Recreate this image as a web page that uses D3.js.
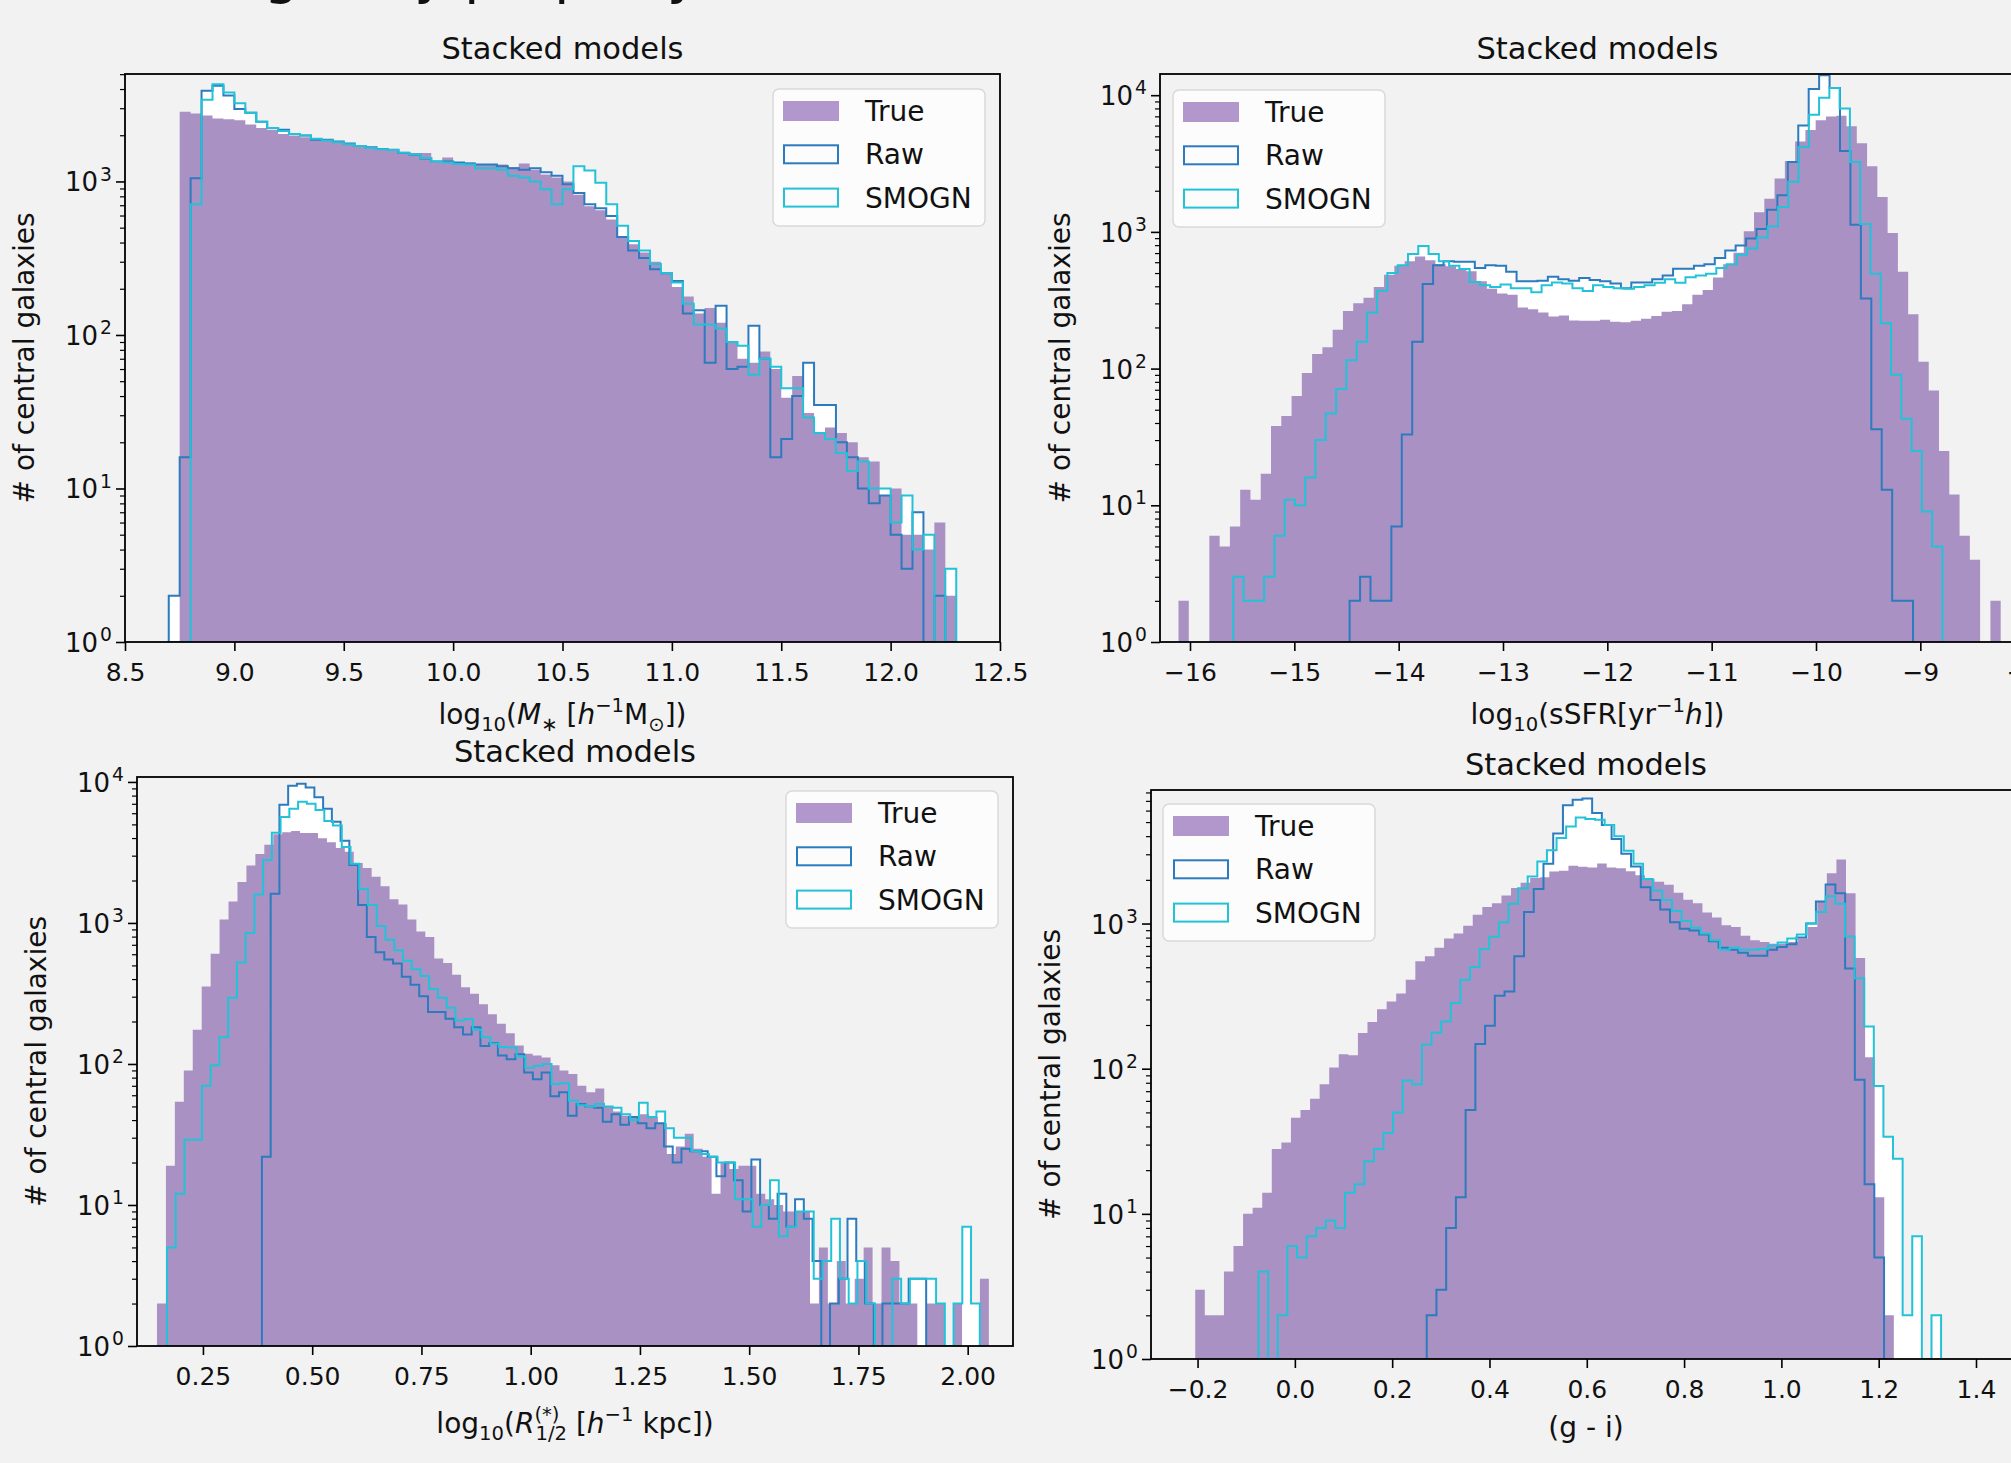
<!DOCTYPE html>
<html>
<head>
<meta charset="utf-8">
<script src="https://cdn.jsdelivr.net/npm/d3@7"></script>
<style>
  body { margin: 0; background: #f2f2f2; }
  svg { display: block; font-family: "DejaVu Sans", sans-serif; }
</style>
</head>
<body>
<svg width="2011" height="1463"></svg>
<script>
// series order everywhere: True, Raw, SMOGN
const seriesNames = ["True", "Raw", "SMOGN"];

// stellar mass
const massBinStart = [8.70, 8.70, 8.70];
const massBinWidth = [0.05, 0.05, 0.05];
const massTrue = [0,2850,2770,2690,2570,2540,2500,2350,2230,2170,2040,1990,1940,1870,1850,1800,1770,1720,1670,1630,1610,1560,1530,1530,1330,1430,1330,1330,1290,1290,1290,1240,1310,1190,1110,1060,1000,820,690,650,565,435,390,345,300,252,205,178,138,150,120,90,70,66,78,60,39,54,31,23,25,23,20,16,15,9,10,5,5,4,6,2];
const massRaw = [2,16,1050,3900,4200,3630,2960,2800,2450,2230,2170,2040,1990,1870,1870,1820,1770,1700,1670,1630,1610,1530,1490,1410,1350,1350,1330,1310,1290,1290,1255,1220,1190,1220,1150,1090,960,840,710,670,595,435,355,317,268,252,225,138,145,66,155,60,62,115,70,16,21,40,66,35,35,20,16,10,8,9,5,3,7,0,2,0];
const massSmogn = [0,0,710,3400,4300,3800,3230,2800,2450,2230,2130,2040,1990,1900,1850,1800,1750,1700,1650,1620,1600,1540,1500,1420,1350,1330,1300,1290,1220,1220,1190,1090,1060,1000,890,710,890,1255,1180,980,710,515,410,355,290,252,220,160,117,117,110,90,85,55,70,62,45,45,29,23,21,17,13,15,10,10,6,9,4,5,0,3];
const massTicks = [8.5, 9.0, 9.5, 10.0, 10.5, 11.0, 11.5, 12.0, 12.5];

// specific star formation rate
const ssfrBinStart = [-16.11, -14.47, -15.585];
const ssfrBinWidth = [0.0985, 0.1, 0.0985];
const ssfrTrue = [2,0,0,6,5,7,13,11,17,38,45,63,93,128,143,192,264,300,330,395,485,565,610,660,620,580,560,535,515,435,383,355,347,280,272,257,240,245,225,224,224,228,220,218,224,232,243,260,264,295,347,375,463,580,705,1010,1390,1750,2460,3300,4580,5560,6560,6970,7070,5920,4450,3020,1800,980,510,250,112,69,25,12,6,4,0,2];
const ssfrRaw = [2,3,2,2,7,33,157,415,570,610,605,605,545,570,565,510,435,435,440,470,450,440,460,445,435,420,387,426,426,450,480,537,537,565,580,645,730,795,895,1050,1450,1850,3250,6000,11100,14000,11300,3900,1130,325,36,13,2,2];
const ssfrSmogn = [3,2,2,3,6,11,10,16,30,47,71,115,157,257,371,500,570,690,790,690,610,565,535,430,407,395,413,387,387,362,407,426,420,387,370,407,395,387,383,395,407,425,450,425,465,480,495,545,580,680,755,910,1100,1520,2330,4170,7200,9580,11300,8000,3250,1140,495,215,90,43,25,9,5];
const ssfrTicks = [-16, -15, -14, -13, -12, -11, -10, -9, -8];

// half-mass radius
const sizeBinStart = [0.1448, 0.385, 0.1677];
const sizeBinWidth = [0.02047, 0.02, 0.02];
const sizeTrue = [2,19,54,90,175,355,605,1060,1420,1950,2560,3080,3580,4260,4400,4480,4340,4340,3980,3740,3400,3200,2660,2450,2130,1820,1470,1350,1060,870,795,560,520,430,350,315,265,225,193,165,135,118,115,111,98,90,85,70,63,67,50,46,43,42,44,42,38,23,26,32,25,22,12,20,18,19,19,12,11,10,9,9,9,2,5,2,4,2,3,5,2,5,4,2,2,0,2,2,0,2,0,0,3];
const sizeRaw = [22,1610,6900,9400,9700,9150,7800,6450,5220,3830,2580,1340,795,620,550,515,415,365,302,234,234,209,182,162,182,134,141,115,108,117,87,78,87,59,63,43,52,50,49,39,44,37,42,38,35,38,26,20,25,24,24,22,16,20,15,9,21,10,8,12,7,11,8,4,0,2,3,8,4,2,0,2,2,2,3,3];
const sizeSmogn = [5,12,29,29,70,98,155,295,525,850,1590,2800,4370,5630,6460,7230,7000,6330,5280,4900,3460,2630,1740,1340,950,760,640,540,470,420,340,295,250,203,208,175,155,139,132,131,113,94,97,100,72,73,55,51,50,52,50,49,44,40,53,42,46,35,30,30,24,23,22,20,20,11,11,7,10,15,6,7,9,9,3,4,8,3,2,4,2,0,0,3,2,3,3,3,2,0,2,7,2];
const sizeTicks = [0.25, 0.50, 0.75, 1.00, 1.25, 1.50, 1.75, 2.00];

// g - i colour
const colourBinStart = [-0.2048, 0.271, -0.0747];
const colourBinWidth = [0.01967, 0.02, 0.01976];
const colourTrue = [3,2,2,4,6,10,11,14,28,31,46,52,62,78,102,126,124,176,210,257,290,330,410,550,596,680,790,855,967,1150,1300,1380,1560,1760,1910,2060,2080,2280,2310,2500,2460,2430,2590,2430,2400,2290,2150,2030,1940,1850,1630,1460,1380,1190,1100,975,945,825,768,745,725,725,745,790,945,1410,2220,2760,1620,580,120,13,2];
const colourRaw = [2,3,8,13,52,148,198,318,340,596,1200,1730,2580,4170,6530,7120,7260,5770,4780,3830,3020,2470,1780,1450,1250,1020,920,895,840,755,680,660,630,600,600,660,690,720,800,1000,1420,1860,1620,490,84,16,5];
const colourSmogn = [4,0,2,6,5,7,8,9,8,14,16,23,28,36,50,83,78,147,177,211,283,410,502,668,810,1020,1370,1750,2110,2680,3200,3880,4660,5370,5250,5190,4770,3990,3170,2580,2030,1690,1450,1220,1040,935,855,768,660,680,660,660,668,705,740,790,840,1000,1200,1540,1370,815,420,195,76,34,24,2,7,0,2];
const colourTicks = [-0.2, 0.0, 0.2, 0.4, 0.6, 0.8, 1.0, 1.2, 1.4];

const svg = d3.select("svg");
const textColor = "#111";
const lineColors = ["#a991c3", "#2c7bbf", "#22c3d8"];
const legendTrueColor = "#b197cc";

svg.append("rect").attr("width", 2011).attr("height", 1463).attr("fill", "#f2f2f2");

// clipped suptitle at the very top of the picture
svg.append("text")
  .attr("x", 264).attr("y", -8)
  .attr("font-size", 55).attr("fill", textColor)
  .text("galaxy property");

function richText(sel, parts, size) {
  let cur = 0;
  parts.forEach((p) => {
    const shift = p.sub ? 0.25 * size : p.sup ? -0.42 * size : 0;
    const ts = sel.append("tspan").attr("dy", shift - cur).text(p.t);
    cur = shift;
    if (p.sub || p.sup) ts.attr("font-size", (p.scale || 0.7) * size);
    if (p.it) ts.attr("font-style", "italic");
    if (p.dx) ts.attr("dx", p.dx);
  });
}

const panels = [
  {
    key: "mass", left: 125, top: 74, width: 875, height: 568,
    xDomain: [8.5, 12.5], yTop: 3.70, ticks: massTicks, fmt: ".1f",
    binStart: massBinStart, binWidth: massBinWidth, counts: [massTrue, massRaw, massSmogn],
    legendX: 648, legendY: 15, ylabelX: 27, xlabelDy: 82,
    xlabel: [{t: "log"}, {t: "10", sub: 1}, {t: "("}, {t: "M", it: 1}, {t: "∗", sub: 1}, {t: " ["},
             {t: "h", it: 1}, {t: "−1", sup: 1}, {t: "M"}, {t: "⊙", sub: 1}, {t: "])"}],
  },
  {
    key: "ssfr", left: 1160, top: 74, width: 875, height: 568,
    xDomain: [-16.2875, -7.901], yTop: 4.155, ticks: ssfrTicks, fmt: "d",
    binStart: ssfrBinStart, binWidth: ssfrBinWidth, counts: [ssfrTrue, ssfrRaw, ssfrSmogn],
    legendX: 13, legendY: 16, ylabelX: 1063, xlabelDy: 82,
    xlabel: [{t: "log"}, {t: "10", sub: 1}, {t: "(sSFR[yr"}, {t: "−1", sup: 1}, {t: "h", it: 1}, {t: "])"}],
  },
  {
    key: "size", left: 137, top: 777, width: 876, height: 569,
    xDomain: [0.0991, 2.1037], yTop: 4.035, ticks: sizeTicks, fmt: ".2f",
    binStart: sizeBinStart, binWidth: sizeBinWidth, counts: [sizeTrue, sizeRaw, sizeSmogn],
    legendX: 649, legendY: 14, ylabelX: 39, xlabelDy: 87,
    xlabel: [{t: "log"}, {t: "10", sub: 1}, {t: "("}, {t: "R", it: 1}, {t: "(*)", sup: 1},
             {t: "1/2", sub: 1, dx: -24}, {t: " ["}, {t: "h", it: 1}, {t: "−1", sup: 1}, {t: " kpc])"}],
  },
  {
    key: "colour", left: 1151, top: 790, width: 870, height: 569,
    xDomain: [-0.2957, 1.4925], yTop: 3.92, ticks: colourTicks, fmt: ".1f",
    binStart: colourBinStart, binWidth: colourBinWidth, counts: [colourTrue, colourRaw, colourSmogn],
    legendX: 12, legendY: 14, ylabelX: 1053, xlabelDy: 78,
    xlabel: [{t: "(g - i)"}],
  },
];

function stepPoints(start, w, counts) {
  const pts = [[start, 0]];
  counts.forEach((c, i) => {
    pts.push([start + i * w, c]);
    pts.push([start + (i + 1) * w, c]);
  });
  pts.push([start + counts.length * w, 0]);
  return pts;
}

function drawPanel(p) {
  const g = svg.append("g").attr("transform", `translate(${p.left},${p.top})`);
  const x = d3.scaleLinear().domain(p.xDomain).range([0, p.width]);
  const y = d3.scaleLog().domain([1, Math.pow(10, p.yTop)]).range([p.height, 0]);
  const yv = (c) => y(Math.max(c, 1));

  const clipId = "clip-" + p.key;
  g.append("clipPath").attr("id", clipId)
    .append("rect").attr("width", p.width).attr("height", p.height);
  const plot = g.append("g").attr("clip-path", `url(#${clipId})`);

  const line = d3.line().x((d) => x(d[0])).y((d) => yv(d[1]));
  const area = d3.area().x((d) => x(d[0])).y0(p.height).y1((d) => yv(d[1]));
  const steps = p.counts.map((c, i) => stepPoints(p.binStart[i], p.binWidth[i], c));

  [1, 2].forEach((i) => plot.append("path").attr("d", area(steps[i])).attr("fill", "#ffffff"));
  plot.append("path").attr("d", area(steps[0])).attr("fill", lineColors[0]);
  [1, 2].forEach((i) =>
    plot.append("path").attr("d", line(steps[i]))
      .attr("fill", "none").attr("stroke", lineColors[i])
      .attr("stroke-width", 2).attr("stroke-linejoin", "miter"));

  // x axis
  const xa = g.append("g").attr("transform", `translate(0,${p.height})`)
    .call(d3.axisBottom(x).tickValues(p.ticks).tickFormat(d3.format(p.fmt))
      .tickSize(9).tickPadding(12).tickSizeOuter(0));
  xa.attr("font-size", null).attr("font-family", null);
  xa.select(".domain").remove();
  xa.selectAll("line").attr("stroke", "#000").attr("stroke-width", 1.6);
  xa.selectAll("text").attr("font-size", 25).attr("fill", textColor);

  // y axis, decades and minor ticks
  const maxExp = Math.floor(p.yTop);
  const decades = d3.range(0, maxExp + 1).map((e) => Math.pow(10, e));
  const minors = [];
  d3.range(0, maxExp + 1).forEach((e) => {
    for (let m = 2; m <= 9; m++) {
      const v = m * Math.pow(10, e);
      if (Math.log10(v) <= p.yTop) minors.push(v);
    }
  });
  const ya = g.append("g")
    .call(d3.axisLeft(y).tickValues(decades).tickFormat("").tickSize(9).tickSizeOuter(0));
  ya.select(".domain").remove();
  ya.selectAll("line").attr("stroke", "#000").attr("stroke-width", 1.6);
  const ym = g.append("g")
    .call(d3.axisLeft(y).tickValues(minors).tickFormat("").tickSize(5).tickSizeOuter(0));
  ym.select(".domain").remove();
  ym.selectAll("line").attr("stroke", "#000").attr("stroke-width", 1.2);

  decades.forEach((v, e) => {
    const t = g.append("text")
      .attr("x", -13).attr("y", y(v) + 10)
      .attr("text-anchor", "end").attr("font-size", 26).attr("fill", textColor);
    richText(t, [{t: "10"}, {t: String(e), sup: 1, dx: 2, scale: 0.72}], 26);
  });

  // spines
  g.append("rect").attr("width", p.width).attr("height", p.height)
    .attr("fill", "none").attr("stroke", "#000").attr("stroke-width", 1.8);

  // title and labels
  svg.append("text")
    .attr("x", p.left + p.width / 2).attr("y", p.top - 15.5)
    .attr("text-anchor", "middle").attr("font-size", 30.5).attr("fill", textColor)
    .text("Stacked models");

  const xl = svg.append("text")
    .attr("x", p.left + p.width / 2).attr("y", p.top + p.height + p.xlabelDy)
    .attr("text-anchor", "middle").attr("font-size", 28).attr("fill", textColor);
  richText(xl, p.xlabel, 28);

  svg.append("text")
    .attr("transform", `translate(${p.ylabelX + 7},${p.top + p.height / 2}) rotate(-90)`)
    .attr("text-anchor", "middle").attr("font-size", 28).attr("fill", textColor)
    .text("# of central galaxies");

  // legend
  const lg = g.append("g").attr("transform", `translate(${p.legendX},${p.legendY})`);
  lg.append("rect").attr("width", 212).attr("height", 137).attr("rx", 6)
    .attr("fill", "#fcfcfc").attr("stroke", "#d9d9d9").attr("stroke-width", 1.5);
  seriesNames.forEach((name, i) => {
    const cy = 22 + i * 43.3;
    if (i === 0) {
      lg.append("rect").attr("x", 10).attr("y", cy - 10).attr("width", 56).attr("height", 20)
        .attr("fill", legendTrueColor);
    } else {
      lg.append("rect").attr("x", 11).attr("y", cy - 9).attr("width", 54).attr("height", 18)
        .attr("fill", "none").attr("stroke", lineColors[i]).attr("stroke-width", 2);
    }
    lg.append("text").attr("x", 92).attr("y", cy + 10)
      .attr("font-size", 28).attr("fill", textColor).text(name);
  });
}

panels.forEach(drawPanel);
</script>
</body>
</html>
